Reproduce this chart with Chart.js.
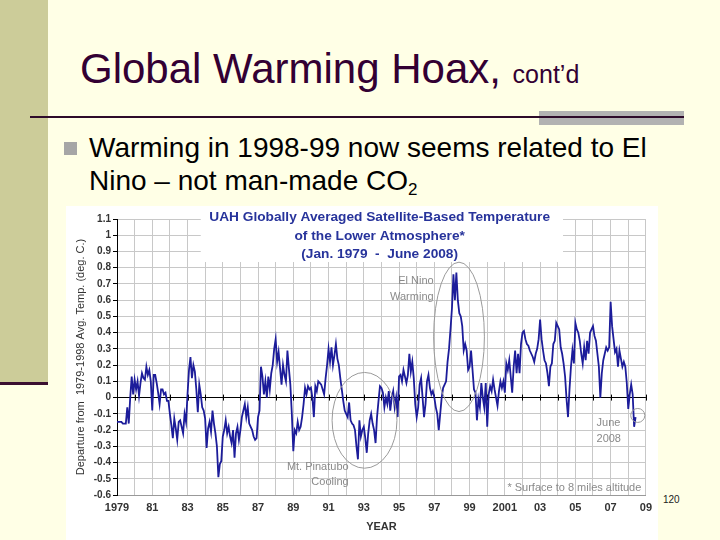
<!DOCTYPE html>
<html>
<head>
<meta charset="utf-8">
<script src="https://cdn.jsdelivr.net/npm/chart.js@4.4.1/dist/chart.umd.min.js"></script>
<style>
  html, body { margin: 0; padding: 0; }
  body { width: 720px; height: 540px; background: #ffffe6; position: relative; overflow: hidden; font-family: Arial, "Liberation Sans", sans-serif; }
  .band { position: absolute; left: 0; top: 0; width: 48px; height: 382px; background: #cccc99; }
  .band-line { position: absolute; left: 0; top: 382px; width: 48px; height: 3px; background: #3a0f30; }
  .rule-grey { position: absolute; left: 539px; top: 111px; width: 145px; height: 14px; background: #b2b2b2; }
  .rule { position: absolute; left: 30px; top: 116px; width: 654px; height: 2px; background: #2e0b2a; }
  h1 { position: absolute; left: 80px; top: 48px; margin: 0; font-weight: normal; font-size: 42px; line-height: 42px; color: #330033; white-space: nowrap; }
  h1 small { font-size: 25px; }
  .bullet { position: absolute; left: 64px; top: 142px; width: 13px; height: 13px; background: #a6a6a6; }
  .text { position: absolute; left: 89px; top: 131px; font-size: 28px; line-height: 33px; color: #000; white-space: nowrap; }
  .text sub { font-size: 17px; vertical-align: -5px; line-height: 0; }
  #box { position: absolute; left: 66px; top: 206px; width: 592px; height: 334px; background: #fff; }
  .page { position: absolute; left: 663px; top: 494px; font-size: 10px; color: #222; }
</style>
</head>
<body>
<div class="band"></div>
<div class="band-line"></div>
<div class="rule-grey"></div>
<div class="rule"></div>
<h1>Global Warming Hoax, <small>cont’d</small></h1>
<div class="bullet"></div>
<div class="text">Warming in 1998-99 now seems related to El<br>Nino – not man-made CO<sub>2</sub></div>
<div id="box"><canvas id="uahChart" width="592" height="334"></canvas></div>
<div class="page">120</div>

<script>
// Dados (anomalia mensal, jan/1979 - jun/2008)
const startYear = 1979;
const monthlyAnomaly = [
  -0.15, -0.15, -0.15, -0.15, -0.16, -0.16, -0.16, -0.06, -0.16, 0.00, 0.13, 0.02,   // 1979
  0.11, 0.05, 0.10, 0.01, 0.09, 0.15, 0.12, 0.11, 0.19, 0.14, 0.17, 0.10,            // 1980
  -0.08, 0.14, 0.14, 0.09, 0.03, -0.04, 0.05, 0.05, 0.02, 0.03, -0.02, -0.02,        // 1981
  -0.10, -0.17, -0.25, -0.13, -0.19, -0.26, -0.15, -0.14, -0.18, -0.22, -0.10, -0.15, // 1982
  0.02, 0.17, 0.25, 0.12, 0.20, 0.16, 0.05, -0.09, 0.08, 0.02, -0.06, -0.08,         // 1983
  -0.13, -0.31, -0.19, -0.15, -0.21, -0.08, -0.16, -0.22, -0.30, -0.49, -0.41, -0.39, // 1984
  -0.24, -0.20, -0.14, -0.22, -0.18, -0.24, -0.28, -0.20, -0.37, -0.22, -0.18, -0.26, // 1985
  -0.20, -0.12, -0.08, -0.04, -0.12, -0.06, -0.16, -0.18, -0.20, -0.24, -0.26, -0.25, // 1986
  -0.12, -0.08, 0.19, 0.13, 0.02, 0.10, 0.00, 0.13, 0.05, 0.15, 0.20, 0.30,          // 1987
  0.36, 0.22, 0.28, 0.18, 0.08, 0.20, 0.14, 0.10, 0.29, 0.18, 0.08, -0.10,           // 1988
  -0.33, -0.20, -0.22, -0.15, -0.20, -0.18, -0.12, -0.04, 0.06, 0.02, 0.07, 0.05,     // 1989
  0.06, 0.00, -0.12, 0.07, 0.04, 0.10, 0.09, 0.08, 0.05, 0.02, 0.12, 0.20,           // 1990
  0.30, 0.22, 0.31, 0.20, 0.26, 0.33, 0.24, 0.20, 0.12, 0.05, -0.02, -0.08,          // 1991
  -0.10, -0.12, -0.03, -0.14, -0.16, -0.17, -0.20, -0.30, -0.38, -0.14, -0.24, -0.20, // 1992
  -0.18, -0.25, -0.34, -0.22, -0.14, -0.10, -0.16, -0.20, -0.28, -0.12, -0.02, 0.07,  // 1993
  0.06, 0.03, -0.06, 0.00, -0.04, 0.04, -0.08, 0.00, 0.04, -0.06, 0.00, -0.12,       // 1994
  0.13, 0.14, 0.10, 0.17, 0.13, 0.09, 0.14, 0.27, 0.16, 0.22, 0.12, -0.04,           // 1995
  -0.12, -0.06, 0.08, 0.12, 0.00, -0.12, -0.04, 0.10, 0.14, 0.06, 0.02, 0.04,        // 1996
  0.00, -0.06, -0.10, -0.20, -0.10, 0.00, 0.06, 0.08, 0.10, 0.22, 0.30, 0.42,        // 1997
  0.55, 0.76, 0.60, 0.77, 0.60, 0.52, 0.50, 0.44, 0.29, 0.33, 0.29, 0.17,            // 1998
  0.19, 0.29, 0.17, 0.05, 0.03, -0.14, -0.01, -0.06, 0.09, 0.00, -0.06, 0.09,        // 1999
  -0.18, 0.02, 0.07, 0.04, 0.11, 0.05, 0.00, -0.05, 0.04, 0.10, 0.06, 0.10,          // 2000
  0.03, 0.21, 0.17, 0.23, 0.13, 0.03, 0.19, 0.29, 0.15, 0.27, 0.15, 0.33,            // 2001
  0.40, 0.41, 0.36, 0.33, 0.32, 0.29, 0.27, 0.25, 0.22, 0.27, 0.30, 0.36,            // 2002
  0.48, 0.36, 0.29, 0.23, 0.21, 0.15, 0.07, 0.19, 0.21, 0.33, 0.35, 0.46,            // 2003
  0.44, 0.42, 0.31, 0.27, 0.21, 0.13, -0.01, -0.12, 0.05, 0.19, 0.29, 0.21,          // 2004
  0.46, 0.42, 0.40, 0.35, 0.27, 0.21, 0.31, 0.23, 0.35, 0.27, 0.40, 0.42,            // 2005
  0.44, 0.38, 0.35, 0.27, 0.19, 0.00, 0.15, 0.23, 0.27, 0.31, 0.29, 0.31,            // 2006
  0.59, 0.44, 0.36, 0.28, 0.30, 0.19, 0.29, 0.24, 0.19, 0.22, 0.19, 0.09,            // 2007
  -0.07, 0.02, 0.08, 0.02, -0.18, -0.12                                               // 2008
];

// Rótulos do eixo X (anos ímpares)
const xTickLabels = {
  1979: '1979', 1981: '81', 1983: '83', 1985: '85', 1987: '87', 1989: '89',
  1991: '91', 1993: '93', 1995: '95', 1997: '97', 1999: '99', 2001: '2001',
  2003: '03', 2005: '05', 2007: '07', 2009: '09'
};

const titleLines = [
  'UAH Globally Averaged Satellite-Based Temperature',
  'of the Lower Atmosphere*',
  '(Jan. 1979  -  June 2008)'
];

// Anotações: texto + posição em unidades (ano, graus)
const notes = [
  { text: 'El Nino', x: 1996.96, y: 0.72, align: 'right' },
  { text: 'Warming', x: 1996.96, y: 0.62, align: 'right' },
  { text: 'Mt. Pinatubo', x: 1992.14, y: -0.425, align: 'right' },
  { text: 'Cooling', x: 1992.14, y: -0.52, align: 'right' },
  { text: 'June', x: 2006.2, y: -0.155, align: 'left' },
  { text: '2008', x: 2006.2, y: -0.255, align: 'left' },
  { text: '* Surface to 8 miles altitude', x: 2008.74, y: -0.556, align: 'right' }
];
const ellipses = [
  { cx: 1998.4, cy: 0.374, rx: 1.44, ry: 0.46 },
  { cx: 1993.04, cy: -0.14, rx: 1.84, ry: 0.295 },
  { cx: 2008.54, cy: -0.11, rx: 0.4, ry: 0.043 }
];

const points = monthlyAnomaly.map((v, i) => ({ x: startYear + i / 12, y: v }));

const FONT = 'Arial, "Liberation Sans", sans-serif';

// Pequenas marcas no eixo zero (estilo Excel)
const zeroTicks = {
  id: 'zeroTicks',
  beforeDatasetsDraw(chart) {
    const { ctx, scales: { x, y } } = chart;
    const y0 = y.getPixelForValue(0);
    ctx.save();
    ctx.strokeStyle = '#000';
    ctx.lineWidth = 1;
    for (let yr = 1979; yr <= 2009; yr++) {
      const px = Math.round(x.getPixelForValue(yr)) + 0.5;
      ctx.beginPath();
      ctx.moveTo(px, y0 - 3);
      ctx.lineTo(px, y0 + 3);
      ctx.stroke();
    }
    ctx.restore();
  }
};

const overlay = {
  id: 'overlay',
  afterDatasetsDraw(chart) {
    const { ctx, scales: { x, y } } = chart;
    ctx.save();

    // Caixa branca do título
    const bx1 = x.getPixelForValue(1983.75), bx2 = x.getPixelForValue(2004.3);
    const by2 = y.getPixelForValue(0.835);
    ctx.fillStyle = '#fff';
    ctx.fillRect(bx1, 0, bx2 - bx1, by2);

    ctx.fillStyle = '#27339b';
    ctx.font = 'bold 13.7px ' + FONT;
    ctx.textAlign = 'center';
    ctx.textBaseline = 'middle';
    const tx = x.getPixelForValue(1993.9);
    [1.11, 0.995, 0.885].forEach((v, i) => ctx.fillText(titleLines[i], tx, y.getPixelForValue(v)));

    // Elipses
    ctx.strokeStyle = '#9a9a9a';
    ctx.lineWidth = 1;
    ellipses.forEach(e => {
      const cx = x.getPixelForValue(e.cx), cy = y.getPixelForValue(e.cy);
      const rx = Math.abs(x.getPixelForValue(e.cx + e.rx) - cx);
      const ry = Math.abs(y.getPixelForValue(e.cy + e.ry) - cy);
      ctx.beginPath();
      ctx.ellipse(cx, cy, rx, ry, 0, 0, Math.PI * 2);
      ctx.stroke();
    });

    // Textos
    ctx.fillStyle = '#8a8a8a';
    ctx.font = '11px ' + FONT;
    notes.forEach(n => {
      ctx.textAlign = n.align;
      ctx.fillText(n.text, x.getPixelForValue(n.x), y.getPixelForValue(n.y));
    });
    ctx.restore();
  }
};

new Chart(document.getElementById('uahChart'), {
  type: 'line',
  data: {
    datasets: [{
      data: points,
      borderColor: '#1c1c9a',
      borderWidth: 1.8,
      pointRadius: 0,
      tension: 0,
      fill: false
    }]
  },
  options: {
    responsive: false,
    animation: false,
    layout: { padding: { top: 13, right: 11, left: 0, bottom: 0 } },
    plugins: { legend: { display: false }, tooltip: { enabled: false } },
    scales: {
      x: {
        type: 'linear',
        min: 1979,
        max: 2009,
        afterFit: s => { s.height = 45; },
        ticks: {
          stepSize: 1,
          autoSkip: false,
          maxRotation: 0,
          padding: 6,
          color: '#333',
          font: { family: FONT, size: 11, weight: 'bold' },
          callback: v => xTickLabels[v] || ''
        },
        grid: { color: '#c8c8c8', lineWidth: 1, drawTicks: false },
        border: { color: '#999', width: 1 },
        title: {
          display: true,
          text: 'YEAR',
          color: '#333',
          font: { family: FONT, size: 11, weight: 'bold' },
          padding: { top: 0, bottom: 6 }
        }
      },
      y: {
        min: -0.6,
        max: 1.1,
        afterFit: s => { s.width = 51; },
        ticks: {
          stepSize: 0.1,
          padding: 2,
          color: '#333',
          font: { family: FONT, size: 10, weight: 'bold' },
          callback: v => String(Math.round(v * 10) / 10)
        },
        grid: {
          color: c => (Math.abs(c.tick.value) < 1e-6 ? '#000' : '#c8c8c8'),
          tickColor: '#000',
          tickLength: 4
        },
        border: { color: '#000', width: 1 },
        title: {
          display: true,
          text: 'Departure from  1979-1998 Avg. Temp. (deg. C.)',
          color: '#333',
          font: { family: FONT, size: 11 },
          padding: { top: 8, bottom: 0 }
        }
      }
    }
  },
  plugins: [zeroTicks, overlay]
});
</script>
</body>
</html>
